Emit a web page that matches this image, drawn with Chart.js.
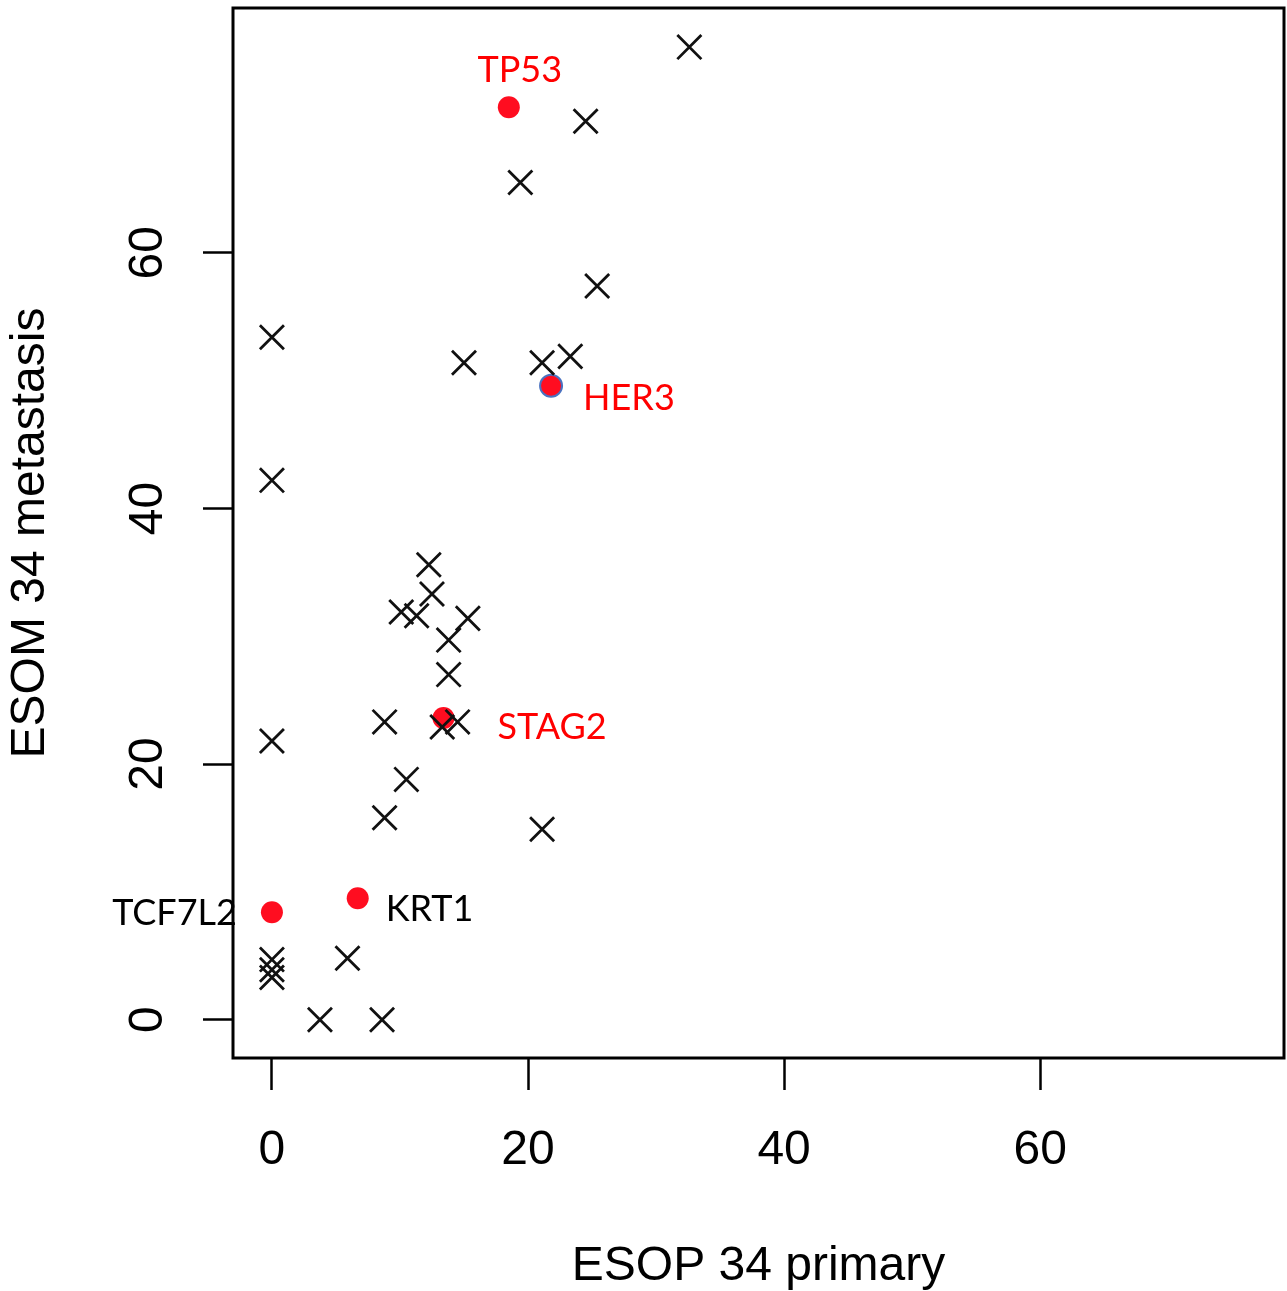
<!DOCTYPE html>
<html>
<head>
<meta charset="utf-8">
<script src="https://cdn.jsdelivr.net/npm/chart.js@4.4.1/dist/chart.umd.min.js"></script>
<style>
  html, body { margin: 0; padding: 0; background: #fff; }
  #wrap { width: 1287px; height: 1291px; position: relative; }
</style>
</head>
<body>
<div id="wrap"><canvas id="scatter"></canvas></div>
<script>
// all other genes (black crosses)
const otherX = [32.6, 24.5, 19.4, 25.4, 0, 15.0, 21.1, 23.3, 0, 12.25, 12.5, 10.1, 11.3, 15.3, 13.8, 13.8,
                8.8, 13.3, 14.5, 0, 10.5, 8.8, 21.1, 5.9, 0, 0, 0, 3.75, 8.6];
const otherY = [76.1, 70.3, 65.5, 57.4, 53.4, 51.4, 51.4, 51.9, 42.2, 35.6, 33.3, 31.9, 31.6, 31.4, 29.7, 27.0,
                23.3, 22.9, 23.3, 21.8, 18.8, 15.8, 14.9, 4.8, 4.7, 3.9, 3.3, 0, 0];

// highlighted genes (red dots)
const geneNames = ["TP53", "HER3", "STAG2", "TCF7L2", "KRT1"];
const geneX = [18.5, 21.8, 13.4, 0, 6.7];
const geneY = [71.4, 49.6, 23.6, 8.4, 9.5];

const xTicks = [0, 20, 40, 60];
const yTicks = [0, 20, 40, 60];

// label placement next to each red dot
const labelStyle = [
  { color: "#ff0000", align: "center", dx: 11, dy: -37 },
  { color: "#ff0000", align: "left", dx: 32, dy: 13 },
  { color: "#ff0000", align: "left", dx: 54, dy: 9 },
  { color: "#000000", align: "right", dx: -35, dy: 1 },
  { color: "#000000", align: "left", dx: 28, dy: 11 }
];

const axisFont = "'Liberation Sans', Arial, Helvetica, sans-serif";

function noPadding(s) {
  s.paddingTop = 0;
  s.paddingBottom = 0;
  s.paddingLeft = 0;
  s.paddingRight = 0;
}

const boxAndLabels = {
  id: "boxAndLabels",
  afterDatasetsDraw(chart) {
    const { ctx, chartArea: a } = chart;
    ctx.save();
    ctx.strokeStyle = "#000";
    ctx.lineWidth = 3;
    ctx.strokeRect(a.left, a.top, a.right - a.left, a.bottom - a.top);

    const meta = chart.getDatasetMeta(1);
    ctx.font = "36px Lato, 'Open Sans', sans-serif";
    ctx.textBaseline = "middle";
    meta.data.forEach((pt, i) => {
      const s = labelStyle[i];
      ctx.fillStyle = s.color;
      ctx.textAlign = s.align;
      ctx.fillText(geneNames[i], pt.x + s.dx, pt.y + s.dy);
    });
    ctx.restore();
  }
};

new Chart(document.getElementById("scatter"), {
  type: "scatter",
  data: {
    datasets: [
      {
        label: "genes",
        data: otherX.map((x, i) => ({ x: x, y: otherY[i] })),
        pointStyle: "crossRot",
        pointRadius: 17,
        pointHoverRadius: 17,
        borderColor: "#111111",
        borderWidth: 2.8
      },
      {
        label: "highlighted",
        data: geneX.map((x, i) => ({ x: x, y: geneY[i] })),
        pointStyle: "circle",
        pointRadius: 11,
        pointHoverRadius: 11,
        backgroundColor: "#ff0d20",
        borderColor: ["#ff0d20", "#4a72c0", "#ff0d20", "#ff0d20", "#ff0d20"],
        borderWidth: [0, 2, 0, 0, 0]
      }
    ]
  },
  options: {
    responsive: true,
    maintainAspectRatio: false,
    animation: false,
    layout: { autoPadding: false, padding: { top: 8, right: 3, left: 0, bottom: 0 } },
    plugins: { legend: { display: false }, tooltip: { enabled: false } },
    scales: {
      x: {
        type: "linear",
        min: -3.04,
        max: 79.04,
        afterBuildTicks: s => { s.ticks = xTicks.map(v => ({ value: v })); },
        afterFit: s => { s.height = 233; noPadding(s); },
        border: { display: false },
        grid: { drawOnChartArea: false, drawTicks: true, tickLength: 32, tickColor: "#000", tickWidth: 2.5 },
        ticks: { color: "#000", font: { family: axisFont, size: 48 }, padding: 32, maxRotation: 0, autoSkip: false },
        title: { display: true, text: "ESOP 34 primary", color: "#000", font: { family: axisFont, size: 48 }, padding: { top: 0, bottom: -5 } }
      },
      y: {
        type: "linear",
        min: -3.0,
        max: 79.16,
        afterBuildTicks: s => { s.ticks = yTicks.map(v => ({ value: v })); },
        afterFit: s => { s.width = 233; noPadding(s); },
        border: { display: false },
        grid: { drawOnChartArea: false, drawTicks: true, tickLength: 30, tickColor: "#000", tickWidth: 2.5 },
        ticks: { color: "#000", font: { family: axisFont, size: 48 }, padding: 28, minRotation: 90, maxRotation: 90, crossAlign: "center", autoSkip: false },
        title: { display: true, text: "ESOM 34 metastasis", color: "#000", font: { family: axisFont, size: 48 }, padding: { top: 2, bottom: 0 } }
      }
    }
  },
  plugins: [boxAndLabels]
});
</script>
</body>
</html>
